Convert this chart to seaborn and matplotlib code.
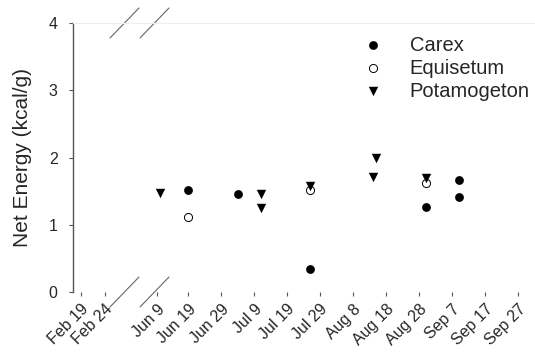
import numpy as np
import pandas as pd
import matplotlib
matplotlib.use("Agg")
import matplotlib.pyplot as plt
import seaborn as sns

# Sampling dates and net energy values (kcal/g) per plant taxon
carex_dates = ["Jun 19", "Jul 4", "Jul 26", "Aug 30", "Sep 9", "Sep 9"]
carex_values = [1.51, 1.46, 0.34, 1.27, 1.66, 1.42]

equisetum_dates = ["Jun 19", "Jul 26", "Aug 30"]
equisetum_values = [1.11, 1.52, 1.62]

potamogeton_dates = ["Jun 10", "Jul 11", "Jul 11", "Jul 26", "Aug 15", "Aug 14", "Aug 30"]
potamogeton_values = [1.47, 1.45, 1.25, 1.57, 2.00, 1.71, 1.70]

tick_labels = ["Feb 19", "Feb 24", "Jun 9", "Jun 19", "Jun 29", "Jul 9", "Jul 19",
               "Jul 29", "Aug 8", "Aug 18", "Aug 28", "Sep 7", "Sep 17", "Sep 27"]
y_ticks = [0, 1, 2, 3, 4]


def day_of_year(labels):
    return pd.to_datetime(["2001 " + s for s in labels], format="%Y %b %d").dayofyear.to_numpy()


# Broken date axis: a short winter segment, a compressed gap, then the summer season
KNOT_DAYS = np.array([48.3, 50.0, 55.0, 160.0, 170.0, 275.0])
KNOT_POS = np.array([0.0, 8.0, 32.0, 84.0, 115.0, 461.5])


def _piecewise(v, xp, fp):
    v = np.asarray(v, dtype=float)
    out = np.interp(v, xp, fp)
    lo = v < xp[0]
    hi = v > xp[-1]
    s0 = (fp[1] - fp[0]) / (xp[1] - xp[0])
    s1 = (fp[-1] - fp[-2]) / (xp[-1] - xp[-2])
    out = np.where(lo, fp[0] + (v - xp[0]) * s0, out)
    out = np.where(hi, fp[-1] + (v - xp[-1]) * s1, out)
    return out


def forward(v):
    return _piecewise(v, KNOT_DAYS, KNOT_POS)


def inverse(v):
    return _piecewise(v, KNOT_POS, KNOT_DAYS)


sns.set_theme(style="white")
plt.rcParams["font.family"] = ["Liberation Sans", "DejaVu Sans"]

fig = plt.figure(figsize=(5.35, 3.52), dpi=100)
ax = fig.add_axes([73 / 535, 60 / 352, 461.5 / 535, 269 / 352])
ax.set_xscale("function", functions=(forward, inverse))

sns.scatterplot(x=day_of_year(carex_dates), y=carex_values, ax=ax, marker="o",
                color="black", edgecolor="black", linewidth=0, s=40, label="Carex")
sns.scatterplot(x=day_of_year(equisetum_dates), y=equisetum_values, ax=ax, marker="o",
                color="white", edgecolor="black", linewidth=0.7, s=34, label="Equisetum")
sns.scatterplot(x=day_of_year(potamogeton_dates), y=potamogeton_values, ax=ax, marker="v",
                color="black", edgecolor="black", linewidth=0, s=46, label="Potamogeton")

ax.set_xlim(KNOT_DAYS[0], KNOT_DAYS[-1])
ax.set_ylim(0, 4)
ax.set_xticks(day_of_year(tick_labels))
ax.set_xticklabels(tick_labels, rotation=45, ha="right", rotation_mode="anchor", fontsize=11.5)
ax.set_yticks(y_ticks)
ax.set_yticklabels([str(t) for t in y_ticks], fontsize=11.5)
ax.tick_params(axis="x", which="major", direction="out", length=3, width=0.8,
               color="#555555", pad=4, bottom=True)
ax.tick_params(axis="y", which="major", direction="out", length=3, width=0.8,
               color="#555555", pad=8, left=True)
ax.set_ylabel("Net Energy (kcal/g)", fontsize=15, labelpad=12)
ax.set_xlabel("")

for side in ("right", "bottom"):
    ax.spines[side].set_visible(False)
ax.spines["top"].set_color("#eeeeee")
ax.spines["top"].set_linewidth(0.8)
ax.spines["left"].set_color("#555555")
ax.spines["left"].set_linewidth(1.0)

# Axis-break marks at the top and bottom of the gap
w, h = 461.5, 269.0
for x0 in (37.0, 67.0):
    for yc in (0.0, 1.0):
        ax.plot([x0 / w, (x0 + 29) / w], [yc - 15 / h, yc + 15 / h], transform=ax.transAxes,
                color="#666666", lw=0.8, clip_on=False)

ax.legend(loc="upper left", bbox_to_anchor=(0.588, 0.983), frameon=False, fontsize=14.5,
          handlelength=2.0, handletextpad=0.85, labelspacing=0.2, borderaxespad=0)

fig.savefig("out.png", dpi=100)
